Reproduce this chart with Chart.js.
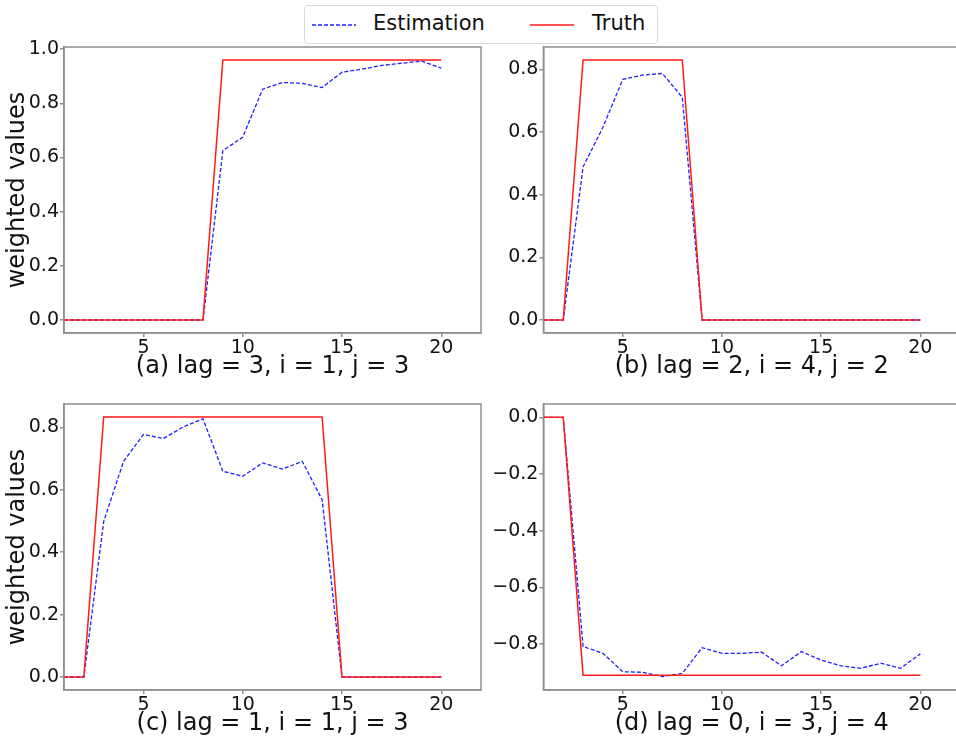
<!DOCTYPE html>
<html>
<head>
<meta charset="utf-8">
<script src="https://cdn.jsdelivr.net/npm/chart.js@4.4.1/dist/chart.umd.min.js"></script>
<style>
    body { margin: 0; background: #fff; overflow: hidden; }
    #wrap { position: relative; width: 956px; height: 743px; overflow: hidden; font-family: "DejaVu Sans", sans-serif; }
    canvas { position: absolute; }
    .legend {
        position: absolute; left: 304px; top: 5px; width: 352px; height: 37px;
        border: 1px solid #d9d9d9; border-radius: 4px; background: #fff;
        font-size: 21px; color: #111;
    }
    .legend svg, .legend span { position: absolute; }
    .legend span { top: 5px; }
</style>
</head>
<body>
<div id="wrap">
    <canvas id="panelA" width="490" height="390" style="left:0;top:0"></canvas>
    <canvas id="panelB" width="470" height="390" style="left:490px;top:0"></canvas>
    <canvas id="panelC" width="490" height="353" style="left:0;top:390px"></canvas>
    <canvas id="panelD" width="470" height="353" style="left:490px;top:390px"></canvas>
    <div class="legend" id="legend"></div>
</div>
<script>
// lag index on the x axis
const lags = [1, 2, 3, 4, 5, 6, 7, 8, 9, 10, 11, 12, 13, 14, 15, 16, 17, 18, 19, 20];

// (a) lag = 3, i = 1, j = 3
const estA = [0, 0, 0, 0, 0, 0, 0, 0, 0.625, 0.675, 0.852, 0.877, 0.874, 0.858, 0.915, 0.926, 0.940, 0.948, 0.956, 0.930];
const truthA = [0, 0, 0, 0, 0, 0, 0, 0, 0.96, 0.96, 0.96, 0.96, 0.96, 0.96, 0.96, 0.96, 0.96, 0.96, 0.96, 0.96];

// (b) lag = 2, i = 4, j = 2
const estB = [0, 0, 0.489, 0.615, 0.768, 0.782, 0.787, 0.711, 0, 0, 0, 0, 0, 0, 0, 0, 0, 0, 0, 0];
const truthB = [0, 0, 0.83, 0.83, 0.83, 0.83, 0.83, 0.83, 0, 0, 0, 0, 0, 0, 0, 0, 0, 0, 0, 0];

// (c) lag = 1, i = 1, j = 3
const estC = [0, 0, 0.498, 0.691, 0.777, 0.764, 0.801, 0.827, 0.659, 0.643, 0.686, 0.666, 0.691, 0.568, 0, 0, 0, 0, 0, 0];
const truthC = [0, 0, 0.833, 0.833, 0.833, 0.833, 0.833, 0.833, 0.833, 0.833, 0.833, 0.833, 0.833, 0.833, 0, 0, 0, 0, 0, 0];

// (d) lag = 0, i = 3, j = 4
const estD = [0, 0, -0.809, -0.833, -0.898, -0.900, -0.915, -0.904, -0.813, -0.833, -0.833, -0.829, -0.877, -0.827, -0.857, -0.877, -0.886, -0.868, -0.886, -0.835];
const truthD = [0, 0, -0.91, -0.91, -0.91, -0.91, -0.91, -0.91, -0.91, -0.91, -0.91, -0.91, -0.91, -0.91, -0.91, -0.91, -0.91, -0.91, -0.91, -0.91];

const panelTitles = ['(a) lag = 3, i = 1, j = 3', '(b) lag = 2, i = 4, j = 2', '(c) lag = 1, i = 1, j = 3', '(d) lag = 0, i = 3, j = 4'];
const seriesNames = ['Estimation', 'Truth'];
const xTicks = [5, 10, 15, 20];

const FONT = '"DejaVu Sans", sans-serif';
const SPINE = '#8f8f8f';
const EST_COLOR = '#1f1fff';
const TRUTH_COLOR = '#ff1a1a';

// top and right spines, matplotlib style
const frame = {
    id: 'frame',
    afterDraw(chart) {
        const { ctx, chartArea: { left, top, right, bottom } } = chart;
        ctx.save();
        ctx.strokeStyle = SPINE;
        ctx.lineWidth = 1.5;
        ctx.strokeRect(left, top, right - left, bottom - top);
        ctx.restore();
    }
};

function makePanel(canvasId, est, truth, opts) {
    const ctx = document.getElementById(canvasId);
    return new Chart(ctx, {
        type: 'line',
        data: {
            labels: lags,
            datasets: [
                {
                    label: seriesNames[0],
                    data: est,
                    borderColor: EST_COLOR,
                    borderWidth: 1.3,
                    borderDash: [4, 2],
                    pointRadius: 0,
                    tension: 0,
                    order: 1
                },
                {
                    label: seriesNames[1],
                    data: truth,
                    borderColor: TRUTH_COLOR,
                    borderWidth: 1.5,
                    pointRadius: 0,
                    tension: 0,
                    order: 0
                }
            ]
        },
        options: {
            responsive: false,
            animation: false,
            devicePixelRatio: 1,
            layout: { padding: opts.padding },
            plugins: {
                legend: { display: false },
                tooltip: { enabled: false }
            },
            scales: {
                x: {
                    type: 'linear',
                    min: 1,
                    max: 22,
                    afterFit: (s) => { s.height = 48; },
                    afterBuildTicks: (s) => { s.ticks = xTicks.map(v => ({ value: v })); },
                    grid: { drawOnChartArea: false, tickLength: 4, color: SPINE, lineWidth: 1.5 },
                    border: { color: SPINE, width: 1.5 },
                    ticks: {
                        padding: 0,
                        color: '#111',
                        font: { family: FONT, size: 19 },
                        maxRotation: 0
                    },
                    title: {
                        display: true,
                        text: opts.title,
                        color: '#111',
                        font: { family: FONT, size: 24 },
                        padding: { top: 0, bottom: 0 }
                    }
                },
                y: {
                    min: opts.yMin,
                    max: opts.yMax,
                    afterFit: (s) => { s.width = opts.yWidth; },
                    grid: { drawOnChartArea: false, tickLength: 4, color: SPINE, lineWidth: 1.5 },
                    border: { color: SPINE, width: 1.5 },
                    ticks: {
                        stepSize: 0.2,
                        includeBounds: false,
                        padding: 1,
                        color: '#111',
                        font: { family: FONT, size: 19 },
                        callback: (v) => v.toFixed(1).replace('-', '\u2212').replace('\u22120.0', '0.0')
                    },
                    title: {
                        display: opts.yTitle,
                        text: 'weighted values',
                        color: '#111',
                        font: { family: FONT, size: 24 },
                        padding: { top: 3, bottom: 0 }
                    }
                }
            }
        },
        plugins: [frame]
    });
}

makePanel('panelA', estA, truthA, {
    title: panelTitles[0], yMin: -0.048, yMax: 1.008, yWidth: 64, yTitle: true,
    padding: { left: 0, top: 47, right: 9, bottom: 9 }
});
makePanel('panelB', estB, truthB, {
    title: panelTitles[1], yMin: -0.0415, yMax: 0.8715, yWidth: 53.4, yTitle: false,
    padding: { left: 0, top: 47, right: 0, bottom: 9 }
});
makePanel('panelC', estC, truthC, {
    title: panelTitles[2], yMin: -0.0416, yMax: 0.8746, yWidth: 64, yTitle: true,
    padding: { left: 0, top: 14, right: 9, bottom: 5 }
});
makePanel('panelD', estD, truthD, {
    title: panelTitles[3], yMin: -0.9625, yMax: 0.047, yWidth: 53.4, yTitle: false,
    padding: { left: 0, top: 14, right: 0, bottom: 5 }
});

// shared legend across the four panels
const legend = document.getElementById('legend');
legend.innerHTML = `
    <svg width="46" height="4" style="left:7px;top:17px"><line x1="0" y1="2" x2="44" y2="2" stroke="${EST_COLOR}" stroke-width="1.3" stroke-dasharray="4 2"/></svg>
    <span style="left:68px">${seriesNames[0]}</span>
    <svg width="46" height="4" style="left:225px;top:17px"><line x1="0" y1="2" x2="44" y2="2" stroke="${TRUTH_COLOR}" stroke-width="1.5"/></svg>
    <span style="left:287px">${seriesNames[1]}</span>
`;
</script>
</body>
</html>
